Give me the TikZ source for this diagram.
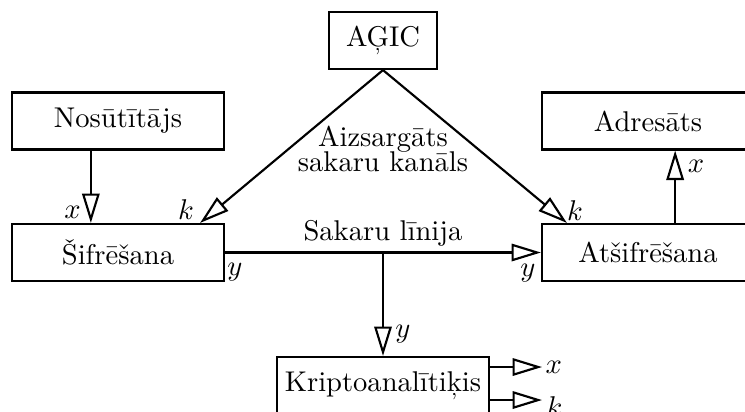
\documentclass[tikz,border=0pt]{standalone}
\usetikzlibrary{arrows.meta}
\begin{document}
\begin{tikzpicture}[x=0.35pt,y=-0.35pt,
  box/.style={draw,line width=0.75pt,minimum width=74.2pt,minimum height=19.95pt,inner xsep=2pt},
  conn/.style={line width=0.75pt},
  arr/.style={conn,-{Triangle[open,length=10.3pt,width=6.1pt,line width=0.75pt]}},
  lbl/.style={inner sep=0pt}]
\useasboundingbox (0,0) rectangle (745,411);

% blocks
\node[box,minimum width=37.8pt] (agic) at (383,40.5) {AĢIC};
\node[box] (nos) at (118,121) {Nosūtītājs};
\node[box] (sif) at (118,252.5) {Šifrēšana};
\node[box] (adr) at (648,121) {Adresāts};
\node[box] (ats) at (648,252.5) {Atšifrēšana};
\node[box] (kri) at (383,385.5) {Kriptoanalītiķis};

% protected key channel
\draw[arr] (agic.south) -- ([xshift=-8.75pt]sif.north east);
\draw[arr] (agic.south) -- ([xshift=9.1pt]ats.north west);
\node[anchor=base] (ch1) at (383,146.7) {Aizsargāts};
\node[anchor=base] (ch2) at (383,171.7) {sakaru kanāls};

% message flow
\draw[arr] ([xshift=-9.5pt]nos.south) -- ([xshift=-9.5pt]sif.north);
\draw[arr] ([xshift=9.5pt]ats.north) -- ([xshift=9.5pt]adr.south);

% communication line and interception
\draw[arr] (sif.east) -- (ats.west);
\coordinate (br) at (sif.east -| agic.south);
\draw[arr] (br) -- (kri.north);
\node[anchor=base] (lin) at (383,240) {Sakaru līnija};

% cryptanalyst outputs
\coordinate (ox) at (542,367);
\coordinate (ok) at (542,400);
\draw[arr] (kri.east |- ox) -- (ox);
\draw[arr] (kri.east |- ok) -- (ok);
\node[lbl,anchor=west] (lxo) at (545,367) {$x$};
\node[lbl,anchor=west] (lko) at (546,407) {$k$};

% signal labels
\node[lbl] (lx1) at (72.5,212) {$x$};
\node[lbl] (lk1) at (186,210) {$k$};
\node[lbl] (ly1) at (235,272) {$y$};
\node[lbl] (ly2) at (528,273) {$y$};
\node[lbl] (lk2) at (575,211) {$k$};
\node[lbl] (lx2) at (696,166) {$x$};
\node[lbl] (ly3) at (403,334) {$y$};
\end{tikzpicture}
\end{document}
